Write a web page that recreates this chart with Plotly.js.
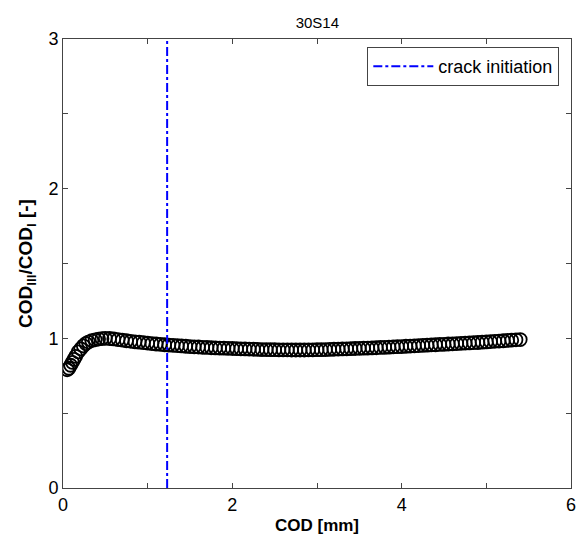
<!DOCTYPE html>
<html>
<head>
<meta charset="utf-8">
<script src="https://cdn.plot.ly/plotly-3.0.1.min.js"></script>
<style>html,body{margin:0;padding:0;background:#fff;}#chart{width:577px;height:538px;}</style>
</head>
<body>
<div id="chart"></div>
<script>
const codX = [0.05,0.07,0.09,0.11,0.13,0.15,0.18,0.21,0.24,0.27,0.30,0.34,0.38,0.42,0.46,0.50,0.55,0.60,0.65,0.70,0.75,0.80,0.85,0.90,0.95,1.00,1.05,1.10,1.15,1.20,1.25,1.30,1.35,1.40,1.45,1.50,1.55,1.60,1.65,1.70,1.75,1.80,1.85,1.90,1.95,2.00,2.05,2.10,2.15,2.20,2.25,2.30,2.35,2.40,2.45,2.50,2.55,2.60,2.65,2.70,2.75,2.80,2.85,2.90,2.95,3.00,3.05,3.10,3.15,3.20,3.25,3.30,3.35,3.40,3.45,3.50,3.55,3.60,3.65,3.70,3.75,3.80,3.85,3.90,3.95,4.00,4.05,4.10,4.15,4.20,4.25,4.30,4.35,4.40,4.45,4.50,4.55,4.60,4.65,4.70,4.75,4.80,4.85,4.90,4.95,5.00,5.05,5.10,5.15,5.20,5.25,5.30,5.35,5.40];
const ratio = [0.79,0.80,0.82,0.84,0.86,0.88,0.91,0.93,0.95,0.965,0.975,0.985,0.99,0.995,0.998,1.0,0.999,0.996,0.992,0.988,0.984,0.980,0.977,0.974,0.971,0.968,0.965,0.962,0.960,0.957,0.955,0.953,0.951,0.949,0.947,0.945,0.943,0.942,0.940,0.939,0.937,0.936,0.935,0.934,0.933,0.932,0.931,0.930,0.929,0.928,0.927,0.926,0.925,0.925,0.924,0.924,0.923,0.923,0.923,0.922,0.922,0.922,0.922,0.923,0.923,0.924,0.924,0.925,0.926,0.927,0.928,0.929,0.930,0.931,0.932,0.933,0.934,0.935,0.936,0.937,0.939,0.940,0.941,0.943,0.944,0.945,0.947,0.948,0.950,0.951,0.953,0.954,0.956,0.957,0.959,0.960,0.962,0.963,0.965,0.966,0.968,0.969,0.971,0.972,0.974,0.976,0.978,0.980,0.982,0.984,0.986,0.988,0.990,0.992];
const crackX = [1.23, 1.23];
const crackY = [0, 3];
const xTickVals = [0,1,2,3,4,5,6];
const xTickText = ['0','','2','','4','','6'];
const yTickVals = [0,0.5,1,1.5,2,2.5,3];
const yTickText = ['0','','1','','2','','3'];

const font = 'Arial, "Liberation Sans", sans-serif';
const traces = [
  {x: codX, y: ratio, type: 'scatter', mode: 'markers', showlegend: false,
   marker: {symbol: 'circle-open', size: 13, color: 'black', line: {width: 1.8, color: 'black'}}},
  {x: crackX, y: crackY, type: 'scatter', mode: 'lines', name: 'crack initiation',
   line: {color: '#0000ff', width: 2, dash: 'dashdot'}}
];
const axisCommon = {showgrid: false, zeroline: false, showline: true, linecolor: '#444', linewidth: 1,
  mirror: 'ticks', ticks: 'inside', ticklen: 5, tickcolor: '#444', tickfont: {family: font, size: 18, color: '#000'}};
const layout = {
  width: 577, height: 538,
  margin: {l: 63, r: 6, t: 39, b: 50},
  paper_bgcolor: '#fff', plot_bgcolor: '#fff',
  title: {text: '30S14', font: {family: font, size: 15, color: '#000'}, x: 0.55, xanchor: 'center', y: 0.958, yanchor: 'middle'},
  xaxis: Object.assign({}, axisCommon, {range: [0, 6], tickmode: 'array', tickvals: xTickVals, ticktext: xTickText,
    title: {text: '<b>COD [mm]</b>', font: {family: font, size: 17, color: '#000'}, standoff: 5}}),
  yaxis: Object.assign({}, axisCommon, {range: [0, 3], tickmode: 'array', tickvals: yTickVals, ticktext: yTickText,
    title: {text: '<b>COD<sub>III</sub>/COD<sub>I</sub> [-]</b>', font: {family: font, size: 19, color: '#000'}, standoff: 10}}),
  legend: {x: 0.977, xanchor: 'right', y: 0.982, yanchor: 'top', bgcolor: '#fff', bordercolor: '#444', borderwidth: 1,
    font: {family: font, size: 18, color: '#000'}, itemwidth: 60},
  showlegend: true
};
Plotly.newPlot('chart', traces, layout, {displayModeBar: false, staticPlot: true});
</script>
</body>
</html>
